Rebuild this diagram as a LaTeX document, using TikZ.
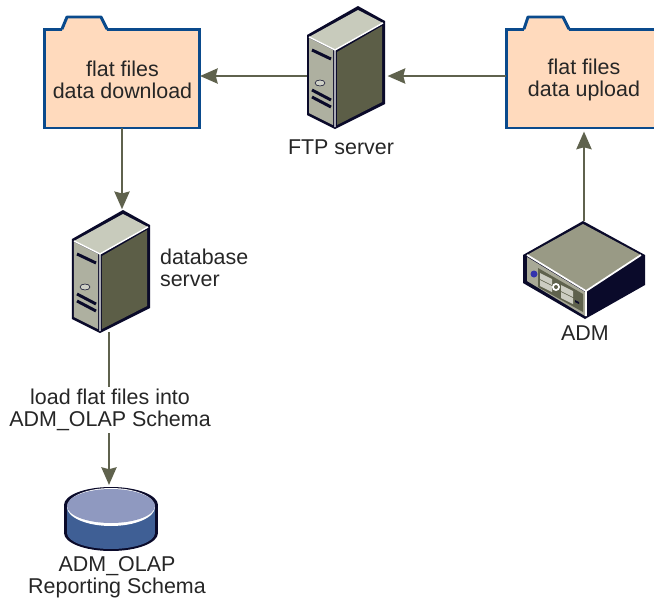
\documentclass[tikz,border=0pt]{standalone}
\usepackage{fontspec}
\setmainfont{Liberation Sans}
\usetikzlibrary{arrows.meta}
\definecolor{flowcol}{HTML}{5F624D}
\definecolor{foldercol}{HTML}{FFDABD}
\definecolor{folderline}{HTML}{0A4A8C}
\definecolor{boxline}{HTML}{0A0A2A}
\definecolor{servertop}{HTML}{C8CBBC}
\definecolor{serverfront}{HTML}{AEB0A0}
\definecolor{serverside}{HTML}{5C5E47}
\definecolor{admtop}{HTML}{999A85}
\definecolor{dbtop}{HTML}{8F99C0}
\definecolor{dbside}{HTML}{3F5F95}
\tikzset{
    flow/.style={draw=flowcol,line width=1.7pt,-{Stealth[length=10pt,width=8.5pt,inset=1pt]}},
    labeltext/.style={font=\fontsize{12.2}{12.5}\selectfont,align=center,text=black!85,inner sep=1pt},
    folderbox/.style={rectangle,draw=folderline,fill=foldercol,line width=1.7pt,minimum width=3.12cm,minimum height=1.98cm,inner sep=0pt,outer sep=0pt},
    foldertab/.style={draw=folderline,line width=1.7pt,line join=round},
    iconbox/.style={rectangle,inner sep=0pt,outer sep=0pt},
    server/.pic={
        \fill[boxline] (0,28) -- (51,-1) -- (78,14) -- (78,97) -- (28,122) -- (0,108) -- cycle;
        \fill[servertop] (2,30) -- (51,3) -- (76,16) -- (28,43) -- cycle;
        \fill[serverfront] (2,31) -- (26,43) -- (26,118) -- (2,106) -- cycle;
        \fill[serverside] (30,45) -- (75,19) -- (75,95) -- (30,118) -- cycle;
        \draw[white,line width=0.8pt] (2,30) -- (28,43) -- (76,16) (28,43) -- (28,120);
        \draw[boxline,line width=1.7pt] (5,43) -- (24,52) (5,83) -- (24,93) (5,90) -- (24,100);
        \draw[boxline,fill=serverfront!60!white,line width=0.3pt] (13,76) ellipse (5 and 3);
    },
}
\begin{document}
\begin{tikzpicture}[x=0.02cm,y=-0.02cm]
    \useasboundingbox (0,0) rectangle (654,599);
    % folders
    \node[folderbox] (download) at (122,78.5) {};
    \fill[foldercol] (62,31) -- (67,17) -- (101,17) -- (107,31) -- cycle;
    \draw[foldertab] (62,29) -- (67,17) -- (101,17) -- (107,29);
    \node[labeltext] (downloadlabel) at (122.5,79.5) {flat files\\data download};
    \node[folderbox] (upload) at (584,78.5) {};
    \fill[foldercol] (524,31) -- (528,17) -- (563,17) -- (569,31) -- cycle;
    \draw[foldertab] (524,29) -- (528,17) -- (563,17) -- (569,29);
    \node[labeltext] (uploadlabel) at (584,79.5) {flat files\\data upload};
    % servers
    \pic at (307,7) {server};
    \node[iconbox,minimum width=1.54cm,minimum height=2.42cm] (ftp) at (345.5,67.5) {};
    \node[labeltext] (ftplabel) at (341,147) {FTP server};
    \pic at (72,211) {server};
    \node[iconbox,minimum width=1.54cm,minimum height=2.42cm] (dbserver) at (110.5,271.5) {};
    \node[labeltext,align=left,anchor=west] (dblabel) at (158,268) {database\\server};
    % ADM box
    \fill[boxline] (583,221) -- (645,255) -- (645,285) -- (585,319) -- (523,283) -- (523,255) -- cycle;
    \fill[admtop] (583,224) -- (641,255) -- (586,290) -- (527,255) -- cycle;
    \fill[admtop!85!white] (527,257) -- (585,292) -- (585,316) -- (527,281) -- cycle;
    \draw[white,line width=1pt] (527,255) -- (586,291) -- (641,255) (586,291) -- (586,316);
    \fill[blue!60!black!80!white] (534,274) circle (3.5);
    \fill[flowcol] (538,268) -- (583,294) -- (583,312) -- (538,287) -- cycle;
    \foreach \px/\py in {540/273,540/280,561/285,561/292}
        \fill[admtop!50!white] (\px,\py) -- (\px+12,\py+6) -- (\px+12,\py+12) -- (\px,\py+6) -- cycle;
    \fill[white] (556,287) circle (4);
    \fill[flowcol] (556,287) circle (2);
    \fill[boxline] (575,300) -- (579,302) -- (579,304) -- (575,302) -- cycle;
    \node[iconbox,minimum width=2.44cm,minimum height=1.98cm] (adm) at (584,270.5) {};
    \node[labeltext] (admlabel) at (585,333) {ADM};
    % database
    \fill[boxline] (111,505) ellipse (47 and 18) (111,533) ellipse (47 and 18);
    \fill[boxline] (64,505) rectangle (158,533);
    \fill[dbside] (111,533) ellipse (44 and 16);
    \fill[dbside] (67,507) rectangle (155,533);
    \fill[white] (111,507) ellipse (44 and 19);
    \fill[dbtop] (111,506) ellipse (44 and 17);
    \node[iconbox,minimum width=1.84cm,minimum height=1.36cm] (schema) at (111,519) {};
    \node[labeltext] (schemalabel) at (117,577) {ADM\_OLAP\\Reporting Schema};
    % connectors
    \coordinate (ftpmid) at (307,76);
    \draw[flow] (ftpmid) -- (ftpmid -| download.east);
    \draw[flow,shorten >=2pt] (upload.west |- ftpmid) -- (ftp.east |- ftpmid);
    \draw[flow,shorten >=1pt] (download.south) -- (download.south |- dbserver.north);
    \draw[flow,shorten >=2pt] (adm.north) -- (upload.south);
    \draw[flow] (dbserver.south -| 109,0) -- node[labeltext,fill=white,midway,xshift=0.6pt,yshift=-0.8pt] (loadlabel) {load flat files into\\ADM\_OLAP Schema} (schema.north -| 109,0);
\end{tikzpicture}
\end{document}
